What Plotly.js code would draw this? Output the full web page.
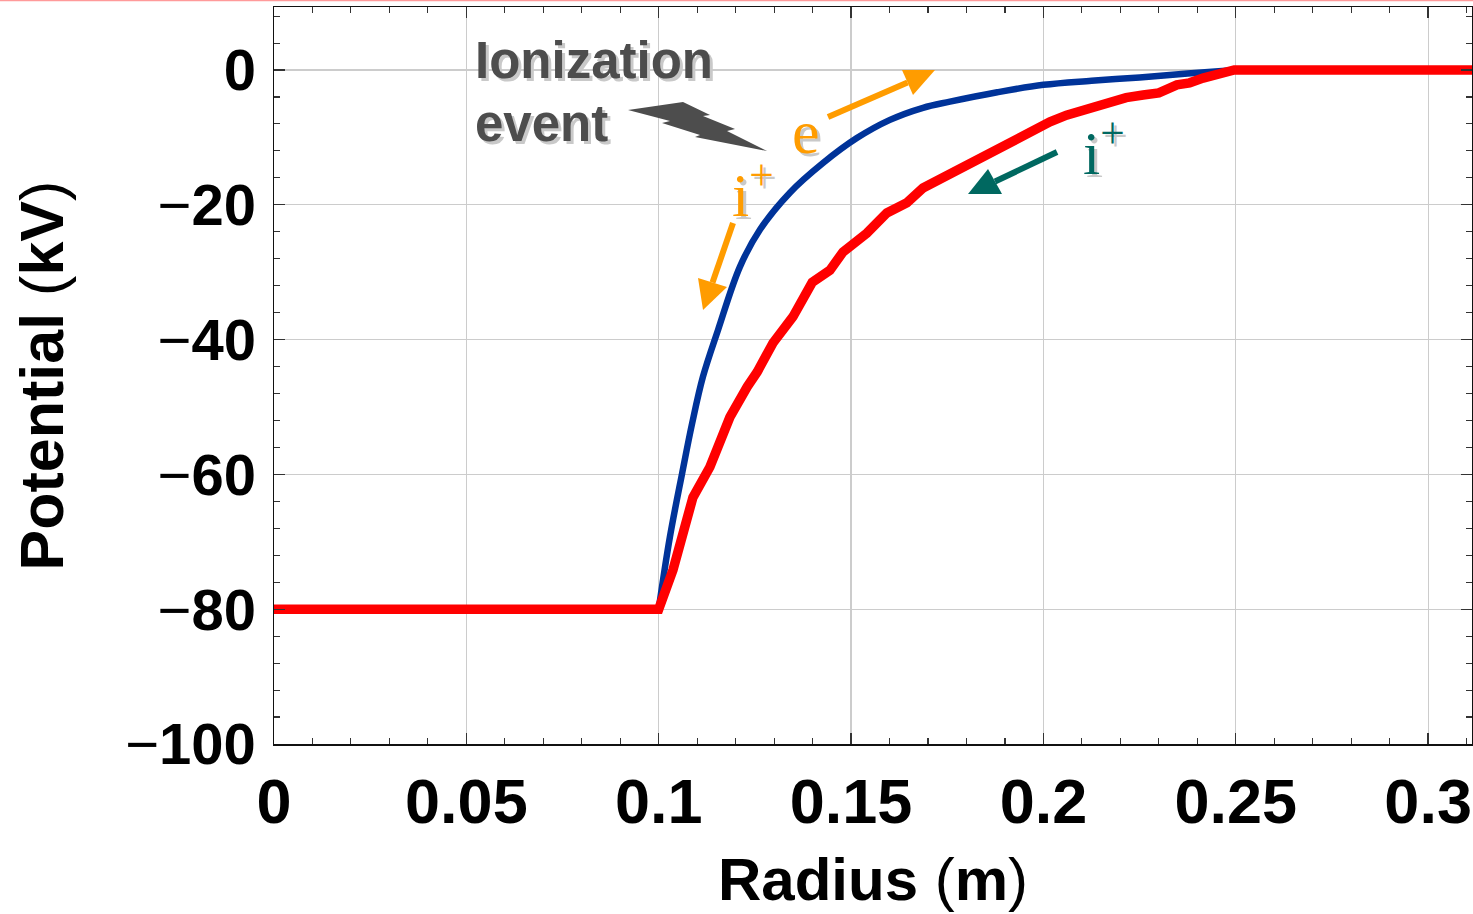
<!DOCTYPE html>
<html>
<head>
<meta charset="utf-8">
<script src="https://cdn.plot.ly/plotly-3.0.1.min.js"></script>
<style>html,body{margin:0;padding:0;background:#fff;}#chart{width:1473px;height:914px;}</style>
</head>
<body>
<div id="chart"></div>
<script>
// ---- data ----
const blueRadius = [0.1, 0.1029, 0.1061, 0.1087, 0.1115, 0.1154, 0.1211, 0.1263, 0.1341, 0.1427, 0.1515, 0.1601, 0.1687, 0.1757, 0.188, 0.2, 0.2125, 0.225, 0.2375, 0.25];
const bluePotential = [-80, -69.3, -59.8, -52.4, -45.5, -38.6, -29.2, -23.7, -18.2, -13.8, -10.1, -7.4, -5.6, -4.7, -3.3, -2.2, -1.6, -1.1, -0.5, 0];

const redRadius = [0, 0.1, 0.1037, 0.1089, 0.1133, 0.1185, 0.1230, 0.1256, 0.1297, 0.1349, 0.1399, 0.1445, 0.1479, 0.1541, 0.1593, 0.1645, 0.1687, 0.1757, 0.1800, 0.1843, 0.1890, 0.1931, 0.1975, 0.2017, 0.2060, 0.2103, 0.2140, 0.2173, 0.2215, 0.2259, 0.2300, 0.2347, 0.2380, 0.2415, 0.2485, 0.2496, 0.3114];
const redPotential = [-80, -80, -74.2, -63.4, -58.9, -51.5, -47.0, -44.8, -40.5, -36.6, -31.5, -29.7, -27.0, -24.2, -21.2, -19.7, -17.5, -15.4, -14.0, -12.9, -11.3, -10.4, -9.0, -7.7, -6.7, -5.9, -5.5, -4.9, -4.1, -3.7, -3.4, -2.2, -1.9, -1.2, -0.3, 0, 0];

const xTickVals = [0, 0.05, 0.1, 0.15, 0.2, 0.25, 0.3];
const xTickLabels = ['0', '0.05', '0.1', '0.15', '0.2', '0.25', '0.3'];
const yTickVals = [0, -20, -40, -60, -80, -100];
const yTickLabels = ['0', '\u221220', '\u221240', '\u221260', '\u221280', '\u2212100'];

const labelIonization = ['Ionization', 'event'];
const labelElectron = 'e';
const labelIon = 'i<sup>+</sup>';

// ---- helpers (pixel -> data, for decorations only) ----
const X = p => (p - 274) / 3847;
const Y = p => (70 - p) / 6.74;

const thinMinus = s => s.replace('\u2212', "<span style='font-weight:400'>\u2212</span>");

const traces = [
  {x: blueRadius, y: bluePotential, mode: 'lines', line: {color: '#003399', width: 6.5, shape: 'spline', smoothing: 1}, hoverinfo: 'skip'},
  {x: redRadius, y: redPotential, mode: 'lines', line: {color: '#ff0000', width: 9.5}, hoverinfo: 'skip'}
];

const orange = '#ff9c00';
const teal = '#006860';
const gray = '#4d4d4d';
const shadow = '#c9c9c9';

function arrow(tail, tip, b1, b2, color) {
  const mid = [(b1[0] + b2[0]) / 2, (b1[1] + b2[1]) / 2];
  return [
    {type: 'line', xref: 'x', yref: 'y', x0: X(tail[0]), y0: Y(tail[1]), x1: X(mid[0]), y1: Y(mid[1]), line: {color: color, width: 6}},
    {type: 'path', xref: 'x', yref: 'y', path: `M ${X(tip[0])},${Y(tip[1])} L ${X(b1[0])},${Y(b1[1])} L ${X(b2[0])},${Y(b2[1])} Z`, fillcolor: color, line: {width: 0}}
  ];
}

const boltPts = [[628,110],[683,102],[710,115],[703,116],[735,129],[727,131],[767,151],[695,137],[700,135],[662,123],[670,121]];
const boltPath = 'M ' + boltPts.map(p => `${X(p[0])},${Y(p[1])}`).join(' L ') + ' Z';

const shapes = [
  {type: 'path', xref: 'x', yref: 'y', path: boltPath, fillcolor: gray, line: {width: 0}},
  ...arrow([828,117], [935,70], [902,70], [913,95], orange),
  ...arrow([733,223], [703,310], [698,278], [727,287], orange),
  ...arrow([1057,152], [968,194], [988,169], [1002,194], teal),
  {type: 'line', xref: 'paper', yref: 'paper', x0: -0.3, x1: 1.01, y0: 1.0092, y1: 1.0092, line: {color: '#ff9a9a', width: 2}}
];

function textAnn(text, px, py, color, family, size, weight, xanchor, withShadow) {
  const base = {text: text, x: X(px), y: Y(py), xref: 'x', yref: 'y', showarrow: false,
    xanchor: xanchor, yanchor: 'middle', font: {family: family, size: size, color: color, weight: weight}};
  const out = [];
  if (withShadow) out.push(Object.assign({}, base, {xshift: 3, yshift: -3, font: Object.assign({}, base.font, {color: shadow})}));
  out.push(base);
  return out;
}

const annotations = [
  ...textAnn(labelIonization[0], 473, 60, gray, 'Liberation Sans', 51, 700, 'left', true),
  ...textAnn(labelIonization[1], 473, 123, gray, 'Liberation Sans', 51, 700, 'left', true),
  ...textAnn(labelElectron, 806, 132, orange, 'Liberation Serif', 62, 400, 'center', true),
  ...textAnn(labelIon, 730, 190, orange, 'Liberation Serif', 62, 400, 'left', true),
  ...textAnn(labelIon, 1081, 148, teal, 'Liberation Serif', 62, 400, 'left', true)
];

const layout = {
  width: 1473, height: 914,
  margin: {l: 274, r: 1, t: 7, b: 170, pad: 0},
  paper_bgcolor: '#ffffff', plot_bgcolor: '#ffffff',
  showlegend: false,
  font: {family: 'Liberation Sans, Arial, sans-serif', color: '#000'},
  xaxis: {
    range: [0, 0.3114], tickmode: 'array', tickvals: xTickVals, ticktext: xTickLabels,
    ticks: 'inside', ticklen: 11, tickwidth: 1.3, tickcolor: '#333',
    minor: {tickmode: 'linear', tick0: 0, dtick: 0.01, ticks: 'inside', ticklen: 6, tickwidth: 1.1, tickcolor: '#333', showgrid: false},
    showline: true, linecolor: '#111', linewidth: 1.5, mirror: 'allticks',
    showgrid: true, gridcolor: '#cccccc', gridwidth: 1.2, zeroline: false,
    tickfont: {size: 63, weight: 700, color: '#000'},
    ticklabelstandoff: 2,
    title: {text: "Radius <span style='font-weight:400'>(</span>m<span style='font-weight:400'>)</span>", font: {size: 60, weight: 700, color: '#000'}, standoff: 23}
  },
  yaxis: {
    range: [-100, 9.35], tickmode: 'array', tickvals: yTickVals, ticktext: yTickLabels.map(thinMinus),
    ticks: 'inside', ticklen: 11, tickwidth: 1.3, tickcolor: '#333',
    minor: {tickmode: 'linear', tick0: 0, dtick: 4, ticks: 'inside', ticklen: 6, tickwidth: 1.1, tickcolor: '#333', showgrid: false},
    showline: true, linecolor: '#111', linewidth: 1.5, mirror: 'allticks',
    showgrid: true, gridcolor: '#cccccc', gridwidth: 1.2, zeroline: false,
    tickfont: {size: 58, weight: 700, color: '#000'},
    ticklabelstandoff: 5,
    title: {text: "Potential <span style='font-weight:400'>(</span>kV<span style='font-weight:400'>)</span>", font: {size: 61, weight: 700, color: '#000'}, standoff: 42}
  },
  shapes: shapes,
  annotations: annotations
};

Plotly.newPlot('chart', traces, layout, {displayModeBar: false, staticPlot: true});
</script>
</body>
</html>
